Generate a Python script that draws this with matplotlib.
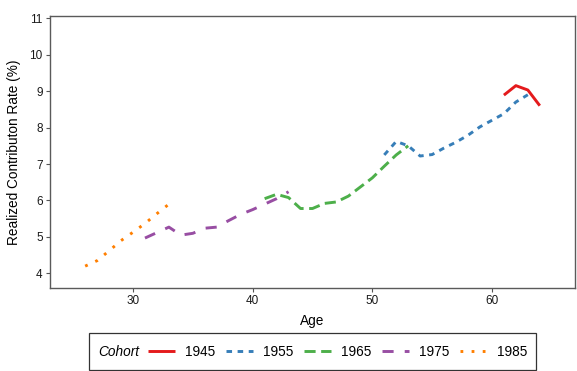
import matplotlib
matplotlib.use("Agg")
import matplotlib.pyplot as plt
from matplotlib.patches import Rectangle

plt.rcParams['font.family'] = ['Liberation Sans', 'DejaVu Sans']
plt.rcParams['lines.scale_dashes'] = False

# realized contribution rate (%) by age, one series per birth cohort
cohorts = ['1945', '1955', '1965', '1975', '1985']
ages_1945 = [61, 62, 63, 64]
rate_1945 = [8.89, 9.15, 9.03, 8.60]
ages_1955 = [51, 52, 53, 54, 55, 56, 57, 58, 59, 60, 61, 62, 63]
rate_1955 = [7.25, 7.62, 7.50, 7.22, 7.26, 7.44, 7.60, 7.79, 8.02, 8.20, 8.38, 8.70, 8.90]
ages_1965 = [41, 42, 43, 44, 45, 46, 47, 48, 49, 50, 51, 52, 53]
rate_1965 = [6.05, 6.17, 6.08, 5.78, 5.78, 5.92, 5.96, 6.12, 6.37, 6.62, 6.94, 7.25, 7.50]
ages_1975 = [31, 32, 33, 34, 35, 36, 37, 38, 39, 40, 41, 42, 43]
rate_1975 = [4.97, 5.12, 5.27, 5.05, 5.10, 5.24, 5.27, 5.45, 5.62, 5.75, 5.90, 6.05, 6.24]
ages_1985 = [26, 27, 28, 29, 30, 31, 32, 33]
rate_1985 = [4.20, 4.35, 4.62, 4.90, 5.13, 5.37, 5.64, 5.90]

series = [(ages_1945, rate_1945), (ages_1955, rate_1955), (ages_1965, rate_1965),
          (ages_1975, rate_1975), (ages_1985, rate_1985)]
colors = ['#E41A1C', '#377EB8', '#4DAF4A', '#984EA3', '#FF7F00']
u = 2.0  # dash unit in points, about one line width
dashes = [None, (0, (2*u, 2*u)), (0, (4*u, 2*u)), (0, (4*u, 4*u)), (0, (1*u, 3*u))]

fig = plt.figure(figsize=(5.77, 3.71), dpi=100)
ax = fig.add_axes([0.086, 0.2237, 0.9105, 0.7332])

handles = []
for (x, y), c, d, lab in zip(series, colors, dashes, cohorts):
    ls = '-' if d is None else d
    ln, = ax.plot(x, y, color=c, lw=2.1, linestyle=ls, label=lab,
                  solid_capstyle='butt', dash_capstyle='butt')
    handles.append(ln)

ax.set_xlim(23.03, 66.94)
ax.set_ylim(3.6, 11.06)
ax.set_xticks([30, 40, 50, 60])
ax.set_yticks(range(4, 12))
ax.tick_params(axis='both', length=3, width=0.8, color='#555555',
               labelsize=8.5, labelcolor='#1a1a1a', pad=2)
for sp in ax.spines.values():
    sp.set_color('#5a5a5a')
    sp.set_linewidth(1.0)

ax.set_xlabel('Age', fontsize=9.8, labelpad=5)
ax.set_ylabel('Realized Contributon Rate (%)', fontsize=9.8, labelpad=6)

# legend strip along the bottom with the title set to its left
fig.patches.append(Rectangle((89/577, 0.004), (536-89)/577, 0.0984,
                             transform=fig.transFigure, fill=False,
                             edgecolor='#333333', lw=0.9))
fig.text(98/577, 0.0512, 'Cohort', fontsize=9.8, fontstyle='italic',
         ha='left', va='center')
fig.legend(handles=handles, labels=cohorts, ncol=5, loc='center',
           bbox_to_anchor=(338/577, 0.0512), frameon=False, fontsize=9.8,
           handlelength=1.95, handletextpad=0.75, columnspacing=0.8)

fig.savefig('out.png', dpi=100)
